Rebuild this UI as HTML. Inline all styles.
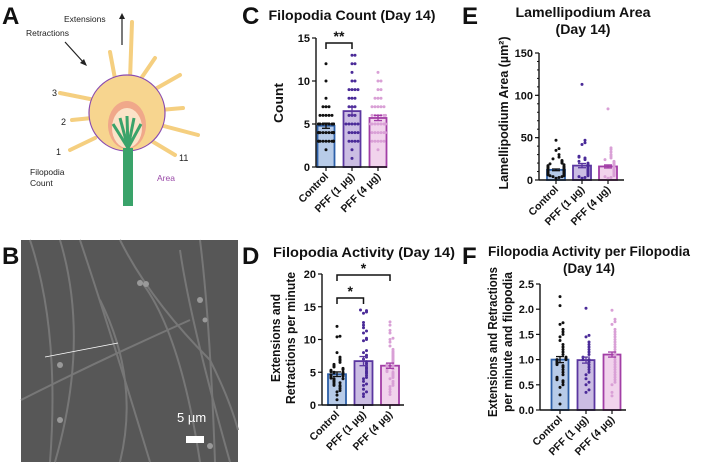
<!DOCTYPE html>
<html><head><meta charset="utf-8"><style>
html,body{margin:0;padding:0;background:#fff;}
svg{display:block;font-family:"Liberation Sans",Arial,sans-serif;}
.t{font-weight:bold;fill:#111;}
</style></head><body>
<svg id="fig" width="708" height="472" viewBox="0 0 708 472" xmlns="http://www.w3.org/2000/svg">
<!-- Panel A -->
<g>
<text x="2" y="24" class="t" font-size="24">A</text>
<text x="64" y="22" font-size="8.5" fill="#222">Extensions</text>
<text x="26" y="36" font-size="8.5" fill="#222">Retractions</text>
<line x1="122" y1="45" x2="122" y2="16" stroke="#222" stroke-width="1.2"/><polygon points="119,19 125,19 122,13" fill="#222"/>
<line x1="65" y1="42" x2="84" y2="63" stroke="#222" stroke-width="1.2"/><polygon points="80,63 87,66 84,59" fill="#222"/>
<g stroke="#f5cf80" stroke-width="4" stroke-linecap="round">
<line x1="130" y1="80" x2="132" y2="22"/><line x1="116" y1="84" x2="110" y2="52"/><line x1="140" y1="80" x2="155" y2="58"/>
<line x1="150" y1="92" x2="180" y2="75"/><line x1="160" y1="110" x2="183" y2="108"/><line x1="160" y1="125" x2="198" y2="135"/>
<line x1="150" y1="140" x2="175" y2="155"/><line x1="95" y1="100" x2="60" y2="93"/><line x1="92" y1="118" x2="72" y2="120"/><line x1="95" y1="138" x2="70" y2="150"/>
</g>
<circle cx="127" cy="113" r="38" fill="#f7d58f" stroke="#8a4bb0" stroke-width="1.2"/>
<ellipse cx="127" cy="125" rx="19" ry="24" fill="#f0a88a"/>
<ellipse cx="127" cy="128" rx="15" ry="20" fill="#fbe3c8"/>
<rect x="123" y="148" width="10" height="58" fill="#3aa36a"/>
<g stroke="#3aa36a" stroke-width="3"><line x1="128" y1="148" x2="113" y2="124"/><line x1="128" y1="148" x2="120" y2="118"/><line x1="128" y1="148" x2="127" y2="116"/><line x1="128" y1="148" x2="134" y2="118"/><line x1="128" y1="148" x2="141" y2="124"/></g>
<text x="52" y="96" font-size="9" fill="#222">3</text><text x="61" y="125" font-size="9" fill="#222">2</text>
<text x="56" y="155" font-size="9" fill="#222">1</text><text x="179" y="161" font-size="9" fill="#222">11</text>
<text x="30" y="175" font-size="8.5" fill="#222">Filopodia</text><text x="30" y="186" font-size="8.5" fill="#222">Count</text>
<text x="157" y="181" font-size="8.5" fill="#9a4aa8">Area</text>
</g>
<!-- Panel B -->
<g>
<rect x="21" y="240" width="217" height="222" fill="#575757"/>
<g stroke="#777" stroke-width="2" fill="none">
<path d="M30,240 Q60,330 50,462"/><path d="M60,240 Q90,340 55,462"/><path d="M80,240 Q110,330 150,462"/>
<path d="M120,240 Q150,300 210,360 Q230,400 238,430"/><path d="M180,250 Q190,320 230,462"/><path d="M21,400 Q100,360 190,320"/>
<path d="M100,300 Q140,380 120,462"/><path d="M200,240 Q210,320 215,462"/><path d="M140,280 Q180,330 200,462"/>
</g>
<g fill="#999"><circle cx="140" cy="283" r="3"/><circle cx="146" cy="284" r="3"/><circle cx="200" cy="300" r="3"/><circle cx="205" cy="320" r="2.5"/><circle cx="60" cy="365" r="3"/><circle cx="60" cy="420" r="3"/><circle cx="210" cy="446" r="3"/></g>
<line x1="45" y1="357" x2="118" y2="343" stroke="#fff" stroke-width="0.8"/>
<text x="177" y="422" font-size="13" fill="#fff">5 µm</text>
<rect x="186" y="436" width="18" height="7" fill="#fff"/>
<text x="2" y="264" class="t" font-size="24">B</text>
</g>
<text x="242" y="24" class="t" font-size="24">C</text>
<text x="242" y="264" class="t" font-size="24">D</text>
<text x="462" y="24" class="t" font-size="24">E</text>
<text x="462" y="264" class="t" font-size="24">F</text>
</svg>
<script>
const groups = ["Control","PFF (1 µg)","PFF (4 µg)"];
const countMeans = [4.8, 6.5, 5.7];
const countSem = [0.3, 0.45, 0.3];
const countTicks = [0,5,10,15];
const countCtrl = [2,3,3,3,3,3,3,3,3,3,3,4,4,4,4,4,4,4,4,4,4,4,4,5,5,5,5,5,5,5,5,5,5,6,6,6,6,6,7,7,7,8,10,12];
const countPff1 = [1,2,3,3,3,3,4,4,4,4,5,5,5,5,5,6,6,6,7,7,7,8,8,8,9,9,9,9,10,10,11,12,12,13,13];
const countPff4 = [2,3,3,3,3,3,4,4,4,4,4,4,5,5,5,5,5,5,5,5,6,6,6,6,6,6,7,7,7,7,7,8,8,8,9,9,10,10,11];
const actMeans = [4.7, 6.7, 6.0];
const actSem = [0.35, 0.7, 0.4];
const actTicks = [0,5,10,15,20];
const actCtrl = [0.8,1.5,2,2.2,2.5,2.8,3,3,3.2,3.4,3.5,3.6,3.8,3.9,4,4,4.1,4.2,4.3,4.4,4.5,4.5,4.6,4.8,4.9,5,5,5.1,5.2,5.3,5.4,5.5,5.6,5.8,5.9,6,6.2,6.5,6.8,7,7.3,8,10.4,10.5,12];
const actPff1 = [1.3,1.7,2,2.4,3,3.2,3.6,4,4.2,4.5,4.8,5,5.2,5.5,5.7,6,6.3,6.6,7,7.3,7.6,8,8.3,9.8,10,10.2,11,11.3,11.8,12.2,12.6,14,14.2,14.4,14.5];
const actPff4 = [1.6,2,2.4,2.8,3,3.3,3.6,4,4.2,4.4,4.6,4.8,5,5.1,5.3,5.5,5.6,5.8,6,6,6.2,6.4,6.6,6.8,7,7.2,7.4,7.6,7.8,8,8.2,8.5,9,9.6,10,10.2,11,11.4,12.2,12.7];
const areaMeans = [12, 17, 16];
const areaSem = [1.0, 2.5, 1.8];
const areaTicks = [0,50,100,150];
const areaCtrl = [2,3,4,4,5,5,6,6,7,7,8,8,8,9,9,10,10,10,11,11,11,12,12,12,13,13,13,14,14,15,15,16,16,17,18,19,20,21,22,23,25,27,30,35,37,47];
const areaPff1 = [2,3,4,5,6,7,8,9,10,11,12,13,14,15,16,17,18,19,20,22,24,26,27,28,42,44,47,113];
const areaPff4 = [2,3,4,5,6,7,8,9,10,11,12,13,14,15,16,17,18,19,20,21,22,24,26,28,30,33,36,38,84];
const perMeans = [1.0, 0.99, 1.1];
const perSem = [0.06, 0.06, 0.05];
const perTicks = [0,0.5,1,1.5,2,2.5];
const perCtrl = [0.12,0.3,0.45,0.5,0.55,0.58,0.6,0.62,0.65,0.7,0.75,0.8,0.85,0.88,0.9,0.92,0.95,0.97,1,1,1.02,1.05,1.1,1.15,1.2,1.25,1.3,1.38,1.45,1.5,1.55,1.6,1.7,1.73,2.07,2.25];
const perPff1 = [0.35,0.4,0.5,0.55,0.62,0.7,0.75,0.8,0.85,0.9,0.95,1,1,1.05,1.1,1.15,1.2,1.25,1.3,1.35,1.45,1.48,2.02];
const perPff4 = [0.28,0.35,0.5,0.55,0.6,0.65,0.7,0.75,0.8,0.85,0.9,0.95,1,1.05,1.1,1.15,1.2,1.25,1.3,1.35,1.4,1.45,1.5,1.55,1.6,1.7,1.75,1.8,1.98];

const NS='http://www.w3.org/2000/svg';
const svg=document.getElementById('fig');
const barFill=['#b7cbe8','#cbbde3','#f1d3ec'];
const barStroke=['#2c5fa8','#5a36a0','#a23ea6'];
const dotCol=['#111','#4a2a98','#d9a0d6'];
function mk(tag,attrs,parent){const e=document.createElementNS(NS,tag);for(const k in attrs)e.setAttribute(k,attrs[k]);(parent||svg).appendChild(e);return e;}

function chart(c){
  const g=mk('g',{});
  
  
  const ymax=c.ticks[c.ticks.length-1];
  const Y=v=>c.y0-(v/ymax)*(c.y0-c.y1);
  const X=i=>c.x0+c.first+i*c.step;
  c.means.forEach((m,i)=>{
    const b=mk('rect',{x:X(i)-c.bw/2,y:Y(m),width:c.bw,height:c.y0-Y(m),fill:barFill[i],stroke:barStroke[i],'stroke-width':1.8},g);
    
    
  });
  c.data.forEach((arr,i)=>{
    const placed=[];
    arr.forEach(v=>{
      const py=Y(v);
      const near=placed.filter(p=>Math.abs(p-py)<2.6).length;
      placed.push(py);
      const off=(near%2?1:-1)*Math.ceil(near/2)*3;
      const clamped=Math.max(-c.bw/2+1,Math.min(c.bw/2-1,off));
      const d=mk('circle',{cx:X(i)+clamped,cy:py,r:1.5,fill:dotCol[i]},g);
      
      
    });
  });
  c.means.forEach((m,i)=>{
    const col=i===0?'#111':barStroke[i];
    mk('line',{x1:X(i),x2:X(i),y1:Y(m-c.sem[i]),y2:Y(m+c.sem[i]),stroke:col,'stroke-width':1.3},g);
    mk('line',{x1:X(i)-4,x2:X(i)+4,y1:Y(m+c.sem[i]),y2:Y(m+c.sem[i]),stroke:col,'stroke-width':1.3},g);
    mk('line',{x1:X(i)-4,x2:X(i)+4,y1:Y(m-c.sem[i]),y2:Y(m-c.sem[i]),stroke:col,'stroke-width':1.3},g);
  });
  const ya=mk('line',{x1:c.x0,x2:c.x0,y1:c.y1,y2:c.y0,stroke:'#111','stroke-width':1.4},g);
  
  const xa=mk('line',{x1:c.x0,x2:c.xend,y1:c.y0,y2:c.y0,stroke:'#111','stroke-width':1.4},g);
  
  c.ticks.forEach(t=>{
    mk('line',{x1:c.x0-4,x2:c.x0,y1:Y(t),y2:Y(t),stroke:'#111','stroke-width':1.2},g);
    const tl=mk('text',{x:c.x0-6,y:Y(t)+4,'text-anchor':'end','font-size':11,'font-weight':'bold',fill:'#111'},g);
    tl.textContent=c.fmt?c.fmt(t):t;
    
  });
  if(c.minor){const n=c.ticks.length-1;for(let k=0;k<n*c.minor;k++){const v=ymax*k/(n*c.minor);mk('line',{x1:c.x0-2,x2:c.x0,y1:Y(v),y2:Y(v),stroke:'#111','stroke-width':1},g);}}
  groups.forEach((gname,i)=>{
    mk('line',{x1:X(i),x2:X(i),y1:c.y0,y2:c.y0+4,stroke:'#111','stroke-width':1.2},g);
    const t=mk('text',{x:X(i)+3,y:c.y0+10,'text-anchor':'end','font-size':10.5,'font-weight':'bold',fill:'#111',transform:`rotate(-45 ${X(i)+3} ${c.y0+10})`},g);
    t.textContent=gname;
    
  });
  c.title.forEach((s,k)=>{
    const t=mk('text',{x:c.tx,y:c.ty+k*17,'text-anchor':'middle','font-size':14,'font-weight':'bold',fill:'#111',textLength:c.tl[k],lengthAdjust:'spacingAndGlyphs'},g);
    t.textContent=s;
    
  });
  c.ylab.forEach((s,k)=>{
    const lx=c.lx[k];
    const t=mk('text',{x:lx,y:c.ly,'text-anchor':'middle','font-size':13,'font-weight':'bold',fill:'#111',transform:`rotate(-90 ${lx} ${c.ly})`,textLength:c.ll[k],lengthAdjust:'spacingAndGlyphs'},g);
    t.textContent=s;
    
  });
  (c.sig||[]).forEach(s=>{
    const a=X(s[0]),b=X(s[1]),y=s[2];
    mk('path',{d:`M${a},${y+6}V${y}H${b}V${y+6}`,fill:'none',stroke:'#111','stroke-width':1.5},g);
    const t=mk('text',{x:(a+b)/2,y:y-2,'text-anchor':'middle','font-size':14,'font-weight':'bold',fill:'#111'},g);
    t.textContent=s[3];
    
  });
}
chart({name:'filopodia-count-chart',x0:316,y0:167,y1:38,xend:387,first:10,step:26,bw:17,ticks:countTicks,means:countMeans,sem:countSem,
  data:[countCtrl,countPff1,countPff4],title:['Filopodia Count (Day 14)'],tl:[167],tx:352,ty:20,ylab:['Count'],ll:[40],lx:[283],ly:103,
  sig:[[0,1,43,'**']],minor:0});
chart({name:'filopodia-activity-chart',x0:322,y0:405,y1:274,xend:404,first:15,step:26.5,bw:18,ticks:actTicks,means:actMeans,sem:actSem,
  data:[actCtrl,actPff1,actPff4],title:['Filopodia Activity (Day 14)'],tl:[182],tx:364,ty:257,ylab:['Extensions and','Retractions per minute'],ll:[88,132],lx:[280,295],ly:338,
  sig:[[0,1,298,'*'],[0,2,275,'*']],minor:0});
chart({name:'lamellipodium-area-chart',x0:539,y0:180,y1:53,xend:624,first:17,step:26,bw:18,ticks:areaTicks,means:areaMeans,sem:areaSem,
  data:[areaCtrl,areaPff1,areaPff4],title:['Lamellipodium Area','(Day 14)'],tl:[135,55],tx:583,ty:17,ylab:['Lamellipodium Area (µm²)'],ll:[153],lx:[508],ly:113,minor:5});
chart({name:'activity-per-filopodia-chart',x0:540,y0:410,y1:284,xend:626,first:20,step:26,bw:17,ticks:perTicks,means:perMeans,sem:perSem,
  data:[perCtrl,perPff1,perPff4],title:['Filopodia Activity per Filopodia','(Day 14)'],tl:[202,52],tx:589,ty:256,ylab:['Extensions and Retractions','per minute and filopodia'],ll:[150,140],lx:[497,512],ly:342,
  fmt:v=>v.toFixed(1),minor:0});
</script>
</body></html>
